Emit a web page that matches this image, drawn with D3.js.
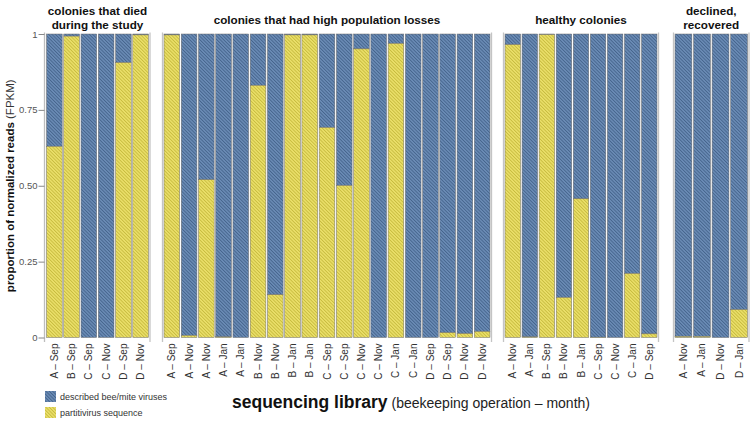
<!DOCTYPE html>
<html>
<head>
<meta charset="utf-8">
<script src="https://d3js.org/d3.v7.min.js"></script>
<style>
  body { margin: 0; background: #fff; }
  text { font-family: "Liberation Sans", Arial, Helvetica, sans-serif; }
</style>
</head>
<body>
<script>
// Data: partitivirus share per library (rest = described bee/mite viruses)
var diedLabels = ["A – Sep", "B – Sep", "C – Sep", "C – Nov", "D – Sep", "D – Nov"];
var diedPartiti = [0.63, 0.993, 0, 0, 0.906, 0.997];

var lossLabels = ["A – Sep", "A – Nov", "A – Nov", "A – Jan", "A – Jan", "B – Nov", "B – Nov",
  "B – Jan", "B – Jan", "C – Sep", "C – Sep", "C – Nov", "C – Nov", "C – Jan", "C – Jan",
  "D – Sep", "D – Sep", "D – Nov", "D – Nov"];
var lossPartiti = [0.997, 0.007, 0.52, 0.002, 0, 0.831, 0.141, 0.997, 0.997, 0.692, 0.501,
  0.951, 0, 0.969, 0, 0, 0.016, 0.013, 0.02];

var healthyLabels = ["A – Nov", "A – Jan", "B – Sep", "B – Nov", "B – Jan", "C – Sep", "C – Nov", "C – Jan", "D – Sep"];
var healthyPartiti = [0.965, 0.002, 0.998, 0.132, 0.457, 0.001, 0, 0.211, 0.012];

var recoveredLabels = ["A – Nov", "A – Jan", "D – Nov", "D – Jan"];
var recoveredPartiti = [0.004, 0.004, 0, 0.092];

var panelTitles = [
  ["colonies that died", "during the study"],
  ["colonies that had high population losses"],
  ["healthy colonies"],
  ["declined,", "recovered"]
];

var yTicks = [0, 0.25, 0.5, 0.75, 1];
var yTickLabels = ["0", "0.25", "0.50", "0.75", "1"];

var seriesNames = ["described bee/mite viruses", "partitivirus sequence"];

// Layout
var svgWidth = 754;
var svgHeight = 423;
var plotTop = 34;
var plotBottom = 337.5;

var panels = [
  { labels: diedLabels, values: diedPartiti, range: [46.5, 148.5] },
  { labels: lossLabels, values: lossPartiti, range: [164, 490] },
  { labels: healthyLabels, values: healthyPartiti, range: [505, 657] },
  { labels: recoveredLabels, values: recoveredPartiti, range: [675, 747.5] }
];

var svg = d3.select("body")
  .append("svg")
  .attr("width", svgWidth)
  .attr("height", svgHeight);

// Hatch patterns
var defs = svg.append("defs");
function hatch(id, base, stripe) {
  var p = defs.append("pattern")
    .attr("id", id)
    .attr("patternUnits", "userSpaceOnUse")
    .attr("width", 2.4)
    .attr("height", 2.4)
    .attr("patternTransform", "rotate(-45)");
  p.append("rect").attr("width", 2.4).attr("height", 2.4).attr("fill", base);
  p.append("rect").attr("width", 0.9).attr("height", 2.4).attr("fill", stripe);
}
hatch("hatchBlue", "#6b8cb6", "#45648c");
hatch("hatchYellow", "#ebe06a", "#c7bb3e");
var fills = ["url(#hatchBlue)", "url(#hatchYellow)"];

var yScale = d3.scaleLinear()
  .domain([0, 1])
  .range([plotBottom, plotTop]);

panels.forEach(function (panel, pi) {
  var xScale = d3.scaleBand()
    .domain(d3.range(panel.labels.length))
    .range(panel.range)
    .paddingInner(0.09)
    .paddingOuter(0);

  var g = svg.append("g");

  // panel borders
  var borders = pi === 0 ? [panel.range[1] + 1.5] : [panel.range[0] - 1.5, panel.range[1] + 1.5];
  g.selectAll("line.border")
    .data(borders)
    .enter().append("line")
    .attr("class", "border")
    .attr("x1", function (d) { return d; })
    .attr("x2", function (d) { return d; })
    .attr("y1", plotTop - 1.5)
    .attr("y2", plotBottom + 4.5)
    .attr("stroke", "#c4c4c4")
    .attr("stroke-width", 1.3);

  // stacked bars: partitivirus at the bottom, described viruses on top
  var rows = panel.values.map(function (v, i) { return { i: i, p: v }; });

  g.selectAll("rect.virus")
    .data(rows)
    .enter().append("rect")
    .attr("x", function (d) { return xScale(d.i); })
    .attr("width", xScale.bandwidth())
    .attr("y", yScale(1))
    .attr("height", function (d) { return yScale(d.p) - yScale(1); })
    .attr("fill", fills[0])
    .attr("stroke", "#6d6d6d")
    .attr("stroke-width", 0.5);

  g.selectAll("rect.parti")
    .data(rows.filter(function (d) { return d.p > 0; }))
    .enter().append("rect")
    .attr("x", function (d) { return xScale(d.i); })
    .attr("width", xScale.bandwidth())
    .attr("y", function (d) { return yScale(d.p); })
    .attr("height", function (d) { return yScale(0) - yScale(d.p); })
    .attr("fill", fills[1])
    .attr("stroke", "#6d6d6d")
    .attr("stroke-width", 0.5);

  // bar labels
  g.selectAll("text.lab")
    .data(panel.labels)
    .enter().append("text")
    .attr("transform", function (d, i) {
      return "translate(" + (xScale(i) + xScale.bandwidth() / 2 + 3.5) + "," + (plotBottom + 6) + ") rotate(-90)";
    })
    .attr("text-anchor", "end")
    .style("font-size", "10px")
    .style("fill", "#333")
    .text(function (d) { return d; });

  // panel title
  var cx = (panel.range[0] + panel.range[1]) / 2;
  var lines = panelTitles[pi];
  g.selectAll("text.title")
    .data(lines)
    .enter().append("text")
    .attr("x", cx)
    .attr("y", function (d, i) { return lines.length === 1 ? 24 : 15 + i * 13.5; })
    .attr("text-anchor", "middle")
    .style("font-size", "11.7px")
    .style("font-weight", "bold")
    .style("fill", "#111")
    .text(function (d) { return d; });
});

// Y axis
var leftAxis = d3.axisLeft(yScale)
  .tickValues(yTicks)
  .tickSize(6)
  .tickFormat(function (d, i) { return yTickLabels[i]; });

var axisG = svg.append("g")
  .attr("transform", "translate(44.5,0)")
  .call(leftAxis);
axisG.select(".domain")
  .attr("stroke", "#bdbdbd")
  .attr("stroke-width", 1.3)
  .attr("d", "M0," + (plotTop - 1.5) + "V" + (plotBottom + 4.5));
axisG.selectAll(".tick line").attr("stroke", "#888");
axisG.selectAll(".tick text")
  .attr("x", -7)
  .style("font-size", "9.5px")
  .style("fill", "#555")
  .style("font-family", "'Liberation Sans', Arial, sans-serif");

// Y axis title
var yTitle = svg.append("text")
  .attr("transform", "translate(14," + ((plotTop + plotBottom) / 2) + ") rotate(-90)")
  .attr("text-anchor", "middle")
  .style("font-size", "11.5px")
  .style("fill", "#111");
yTitle.append("tspan").style("font-weight", "bold").text("proportion of normalized reads");
yTitle.append("tspan").style("fill", "#333").text(" (FPKM)");

// X axis title
var xTitle = svg.append("text")
  .attr("x", 232)
  .attr("y", 408)
  .style("fill", "#111");
xTitle.append("tspan").style("font-weight", "bold").style("font-size", "17.5px").text("sequencing library");
xTitle.append("tspan").style("font-size", "14px").style("fill", "#222").text(" (beekeeping operation – month)");

// Legend
var legend = svg.append("g").attr("transform", "translate(45,391)");
var items = legend.selectAll("g")
  .data(seriesNames)
  .enter().append("g")
  .attr("transform", function (d, i) { return "translate(0," + (i * 16) + ")"; });
items.append("rect")
  .attr("width", 11)
  .attr("height", 11)
  .attr("fill", function (d, i) { return fills[i]; });
items.append("text")
  .attr("x", 15)
  .attr("y", 8.5)
  .style("font-size", "9px")
  .style("fill", "#333")
  .text(function (d) { return d; });
</script>
</body>
</html>
